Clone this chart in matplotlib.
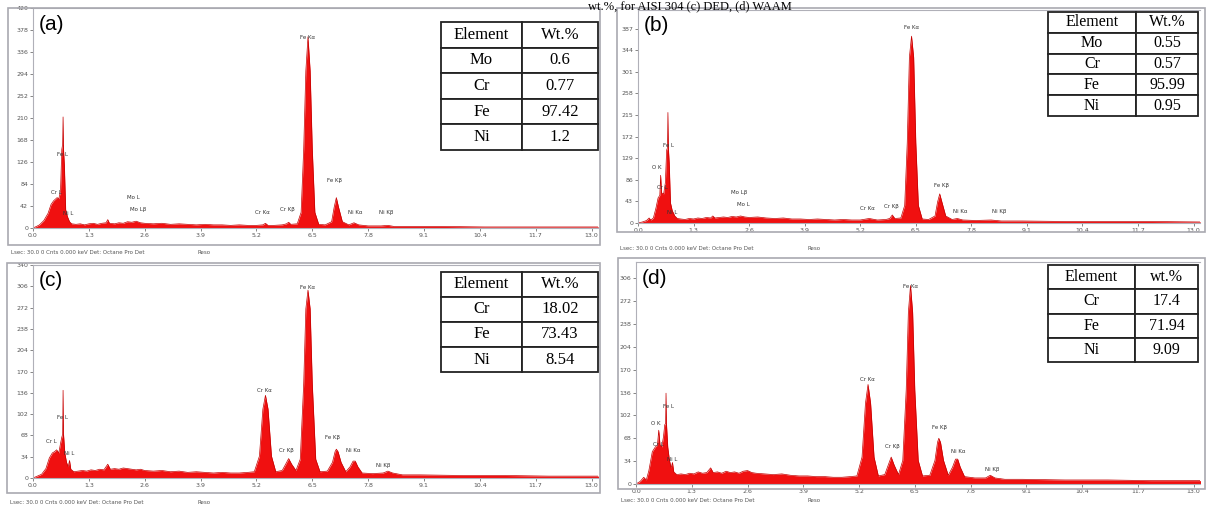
import matplotlib.pyplot as plt
from matplotlib.patches import Rectangle

# EDS spectra, (energy keV, counts)
spec_a = [(0.00, 0), (0.08, 3), (0.15, 6), (0.25, 14), (0.35, 28), (0.42, 45), (0.48, 52), (0.52, 55),
          (0.56, 58), (0.60, 56), (0.64, 70), (0.67, 150), (0.69, 160), (0.70, 212), (0.71, 150),
          (0.73, 120), (0.76, 35), (0.80, 22), (0.85, 12), (0.90, 8), (1.00, 7), (1.10, 8), (1.20, 6),
          (1.30, 8), (1.40, 9), (1.50, 7), (1.60, 9), (1.70, 10), (1.74, 16), (1.78, 9), (1.90, 8),
          (2.00, 10), (2.10, 9), (2.20, 12), (2.30, 11), (2.40, 13), (2.50, 10), (2.60, 9), (2.80, 8),
          (3.00, 9), (3.20, 7), (3.40, 8), (3.60, 7), (3.80, 6), (4.00, 7), (4.20, 6), (4.40, 6),
          (4.60, 5), (4.80, 6), (5.00, 5), (5.20, 5), (5.35, 6), (5.41, 9), (5.47, 5), (5.60, 5),
          (5.80, 6), (5.90, 8), (5.95, 11), (6.00, 7), (6.15, 8), (6.24, 30), (6.30, 150), (6.35, 300),
          (6.40, 365), (6.45, 300), (6.50, 150), (6.56, 30), (6.65, 7), (6.80, 6), (6.95, 12),
          (7.01, 40), (7.06, 58), (7.11, 40), (7.20, 12), (7.35, 6), (7.47, 10), (7.58, 6), (7.80, 4),
          (8.10, 4), (8.26, 5), (8.40, 3), (8.80, 3), (9.50, 3), (10.5, 2), (11.5, 2), (12.5, 2), (13.2, 2)]

spec_b = [(0.00, 0), (0.10, 2), (0.20, 5), (0.26, 10), (0.30, 6), (0.36, 10), (0.42, 30), (0.47, 50),
          (0.51, 55), (0.53, 95), (0.55, 60), (0.60, 58), (0.64, 80), (0.67, 145), (0.69, 150),
          (0.70, 220), (0.71, 150), (0.73, 120), (0.76, 40), (0.80, 25), (0.86, 14), (0.92, 9),
          (1.00, 8), (1.10, 7), (1.20, 9), (1.30, 8), (1.40, 10), (1.50, 9), (1.60, 11), (1.70, 10),
          (1.75, 14), (1.80, 10), (1.90, 11), (2.00, 12), (2.10, 11), (2.20, 13), (2.30, 12),
          (2.40, 14), (2.50, 12), (2.60, 11), (2.80, 12), (3.00, 10), (3.20, 9), (3.40, 10), (3.60, 8),
          (3.80, 8), (4.00, 7), (4.20, 8), (4.40, 7), (4.60, 6), (4.80, 7), (5.00, 6), (5.20, 6),
          (5.41, 9), (5.60, 6), (5.80, 7), (5.89, 9), (5.95, 16), (6.01, 9), (6.15, 10), (6.24, 35),
          (6.30, 160), (6.35, 330), (6.40, 372), (6.45, 330), (6.50, 160), (6.56, 35), (6.65, 8),
          (6.80, 7), (6.95, 14), (7.01, 42), (7.06, 58), (7.11, 42), (7.20, 14), (7.35, 7), (7.47, 9),
          (7.60, 6), (7.90, 5), (8.26, 6), (8.50, 4), (9.00, 4), (10.0, 3), (11.0, 3), (12.0, 3), (13.2, 2)]

spec_c = [(0.00, 0), (0.10, 3), (0.20, 6), (0.30, 15), (0.38, 32), (0.45, 40), (0.50, 42), (0.55, 45),
          (0.60, 40), (0.64, 55), (0.67, 65), (0.69, 70), (0.70, 140), (0.71, 70), (0.74, 40),
          (0.78, 25), (0.82, 18), (0.85, 28), (0.88, 14), (0.95, 10), (1.05, 11), (1.15, 12),
          (1.25, 11), (1.35, 13), (1.45, 12), (1.55, 14), (1.65, 13), (1.74, 22), (1.80, 14),
          (1.90, 15), (2.00, 14), (2.10, 16), (2.20, 15), (2.30, 14), (2.40, 13), (2.50, 14),
          (2.60, 12), (2.80, 11), (3.00, 12), (3.20, 10), (3.40, 11), (3.60, 9), (3.80, 10), (4.00, 9),
          (4.20, 8), (4.40, 9), (4.60, 8), (4.80, 8), (5.00, 9), (5.15, 10), (5.27, 35), (5.35, 110),
          (5.41, 132), (5.47, 110), (5.55, 35), (5.65, 10), (5.80, 12), (5.88, 22), (5.95, 31),
          (6.02, 22), (6.12, 12), (6.22, 30), (6.30, 150), (6.35, 270), (6.40, 300), (6.45, 270),
          (6.50, 150), (6.58, 30), (6.68, 10), (6.85, 11), (6.97, 25), (7.03, 42), (7.06, 46),
          (7.10, 42), (7.17, 25), (7.28, 10), (7.38, 18), (7.45, 27), (7.50, 27), (7.56, 18),
          (7.66, 8), (7.90, 7), (8.15, 8), (8.26, 11), (8.37, 8), (8.60, 5), (9.00, 5), (10.0, 4),
          (11.0, 4), (12.0, 3), (13.2, 3)]

spec_d = [(0.00, 0), (0.10, 4), (0.18, 10), (0.24, 6), (0.30, 20), (0.38, 48), (0.45, 55), (0.50, 58),
          (0.53, 80), (0.56, 58), (0.60, 55), (0.64, 70), (0.67, 88), (0.69, 90), (0.70, 135),
          (0.71, 90), (0.74, 55), (0.78, 35), (0.82, 24), (0.85, 32), (0.88, 18), (0.95, 14),
          (1.05, 15), (1.15, 14), (1.25, 16), (1.35, 15), (1.45, 18), (1.55, 16), (1.65, 17),
          (1.74, 24), (1.80, 17), (1.90, 18), (2.00, 16), (2.10, 19), (2.20, 17), (2.30, 18),
          (2.40, 16), (2.50, 19), (2.60, 20), (2.70, 17), (2.80, 16), (3.00, 15), (3.20, 14),
          (3.40, 15), (3.60, 13), (3.80, 12), (4.00, 12), (4.20, 11), (4.40, 11), (4.60, 10),
          (4.80, 10), (5.00, 11), (5.15, 12), (5.27, 40), (5.35, 120), (5.41, 148), (5.47, 120),
          (5.55, 40), (5.65, 12), (5.80, 14), (5.88, 28), (5.95, 40), (6.02, 28), (6.12, 14),
          (6.22, 35), (6.30, 140), (6.35, 255), (6.40, 295), (6.45, 255), (6.50, 140), (6.58, 35),
          (6.68, 12), (6.85, 13), (6.97, 35), (7.03, 62), (7.06, 68), (7.10, 62), (7.17, 35),
          (7.28, 13), (7.38, 25), (7.45, 37), (7.50, 37), (7.56, 25), (7.66, 11), (7.90, 9),
          (8.15, 9), (8.26, 13), (8.37, 9), (8.60, 7), (9.00, 7), (10.0, 6), (11.0, 6), (12.0, 5), (13.2, 5)]

x_ticks = [0.0, 1.3, 2.6, 3.9, 5.2, 6.5, 7.8, 9.1, 10.4, 11.7, 13.0]
y_ticks_a = [0, 42, 84, 126, 168, 210, 252, 294, 336, 378, 420]
y_ticks_b = [0, 43, 86, 129, 172, 215, 258, 301, 344, 387]
y_ticks_c = [0, 34, 68, 102, 136, 170, 204, 238, 272, 306, 340]
y_ticks_d = [0, 34, 68, 102, 136, 170, 204, 238, 272, 306]

# peak labels: (text, energy, counts)
peaks_a = [("Fe Kα", 6.40, 358), ("Fe L", 0.68, 135), ("Cr L", 0.55, 63), ("Ni L", 0.82, 22),
           ("Mo L", 2.33, 53), ("Mo Lβ", 2.45, 30), ("Cr Kα", 5.35, 24), ("Cr Kβ", 5.92, 30),
           ("Fe Kβ", 7.02, 86), ("Ni Kα", 7.50, 24), ("Ni Kβ", 8.22, 24)]
peaks_b = [("Fe Kα", 6.40, 385), ("Fe L", 0.72, 150), ("O K", 0.45, 105), ("Cr L", 0.56, 66),
           ("Ni L", 0.80, 16), ("Mo Lβ", 2.36, 56), ("Mo L", 2.46, 32), ("Cr Kα", 5.38, 24),
           ("Cr Kβ", 5.92, 28), ("Fe Kβ", 7.10, 70), ("Ni Kα", 7.55, 18), ("Ni Kβ", 8.45, 18)]
peaks_c = [("Fe Kα", 6.40, 300), ("Fe L", 0.68, 92), ("Cr L", 0.42, 55), ("Ni L", 0.84, 35),
           ("Cr Kα", 5.38, 136), ("Cr Kβ", 5.90, 40), ("Fe Kβ", 6.98, 60), ("Ni Kα", 7.45, 40),
           ("Ni Kβ", 8.15, 16)]
peaks_d = [("Fe Kα", 6.40, 290), ("Fe L", 0.76, 112), ("O K", 0.47, 86), ("Cr L", 0.52, 55),
           ("Ni L", 0.85, 32), ("Cr Kα", 5.40, 152), ("Cr Kβ", 5.98, 52), ("Fe Kβ", 7.08, 80),
           ("Ni Kα", 7.52, 44), ("Ni Kβ", 8.30, 18)]

table_a = [["Element", "Wt.%"], ["Mo", "0.6"], ["Cr", "0.77"], ["Fe", "97.42"], ["Ni", "1.2"]]
table_b = [["Element", "Wt.%"], ["Mo", "0.55"], ["Cr", "0.57"], ["Fe", "95.99"], ["Ni", "0.95"]]
table_c = [["Element", "Wt.%"], ["Cr", "18.02"], ["Fe", "73.43"], ["Ni", "8.54"]]
table_d = [["Element", "wt.%"], ["Cr", "17.4"], ["Fe", "71.94"], ["Ni", "9.09"]]

W, H = 1209, 507
fig = plt.figure(figsize=(W / 100, H / 100), dpi=100)


def rect(x0, y0, x1, y1):
    # pixel box (top-left origin) -> figure fraction
    return [x0 / W, 1 - y1 / H, (x1 - x0) / W, (y1 - y0) / H]


panels = [
    # label, spectrum, yticks, ylim top, peaks, table, axes box, frame box, table box, split, footer y, font
    ("(a)", spec_a, y_ticks_a, 420, peaks_a, table_a, (33, 8, 598, 228), (8, 8, 600, 245),
     (441, 22, 598, 150), 522, 253, 12),
    ("(b)", spec_b, y_ticks_b, 424, peaks_b, table_b, (638, 10, 1200, 223), (617, 8, 1205, 232),
     (1048, 12, 1198, 116), 1136, 248, 11.5),
    ("(c)", spec_c, y_ticks_c, 340, peaks_c, table_c, (33, 265, 598, 478), (7, 263, 600, 493),
     (441, 272, 598, 372), 522, 502, 12),
    ("(d)", spec_d, y_ticks_d, 330, peaks_d, table_d, (636, 262, 1200, 484), (618, 258, 1205, 489),
     (1048, 265, 1198, 362), 1135, 500, 11.5),
]

for label, spec, yt, ytop, peaks, tab, abox, fbox, tbox, split, fy, tfs in panels:
    # outer software window frame
    fig.patches.append(Rectangle((fbox[0] / W, 1 - fbox[3] / H), (fbox[2] - fbox[0]) / W,
                                 (fbox[3] - fbox[1]) / H, transform=fig.transFigure,
                                 fill=False, edgecolor='#a9a9b0', linewidth=1.2))

    ax = fig.add_axes(rect(*abox))
    e = [p[0] for p in spec]
    c = [p[1] for p in spec]
    ax.fill_between(e, 0, c, color='#f01010', linewidth=0)
    ax.plot(e, c, color='#c40000', linewidth=0.5)
    ax.set_xlim(0, 13.15)
    ax.set_ylim(0, ytop)
    ax.set_xticks(x_ticks)
    ax.set_xticklabels(['%.1f' % t for t in x_ticks])
    ax.set_yticks(yt)
    ax.set_yticklabels([str(t) for t in yt])
    ax.tick_params(labelsize=4.5, colors='#555555', length=2, width=0.5, pad=1.5)
    for s in ax.spines.values():
        s.set_color('#b0b0b8')
        s.set_linewidth(0.8)
    ax.spines['right'].set_visible(False)

    for txt, xe, yc in peaks:
        ax.text(xe, yc, txt, fontsize=4, color='#333333', ha='center', va='bottom')

    ax.text(0.01, 0.97, label, transform=ax.transAxes, fontsize=15,
            family='Liberation Sans', va='top', ha='left')

    # composition table
    tax = fig.add_axes(rect(*tbox))
    tax.axis('off')
    tw = tbox[2] - tbox[0]
    t = tax.table(cellText=tab, bbox=[0, 0, 1, 1], cellLoc='center',
                  colWidths=[(split - tbox[0]) / tw, (tbox[2] - split) / tw])
    t.auto_set_font_size(False)
    for cell in t.get_celld().values():
        cell.set_linewidth(1.3)
        cell.set_edgecolor('#222222')
        cell.get_text().set_fontsize(tfs)
        cell.get_text().set_family('Liberation Serif')

    fig.text((fbox[0] + 3) / W, 1 - fy / H, "Lsec: 30.0 0 Cnts 0.000 keV Det: Octane Pro Det",
             fontsize=4, color='#555555', va='center')
    fig.text((fbox[0] + 190) / W, 1 - fy / H, "Reso", fontsize=4, color='#555555', va='center')

fig.text(690 / W, 0.999, "wt.%, for AISI 304 (c) DED, (d) WAAM", fontsize=9,
         family='Liberation Serif', ha='center', va='top')

plt.savefig('out.png', dpi=100)
